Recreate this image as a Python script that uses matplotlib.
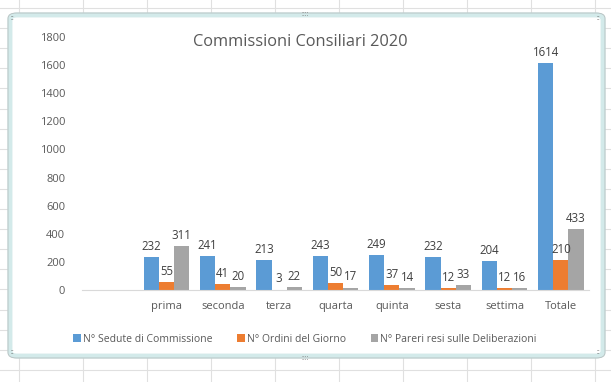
import numpy as np
import matplotlib.pyplot as plt
from matplotlib.patches import FancyBboxPatch
from matplotlib.lines import Line2D

# data (first slot is an empty category, as in the sheet)
categories = ["", "prima", "seconda", "terza", "quarta", "quinta", "sesta", "settima", "Totale"]
sedute = [np.nan, 232, 241, 213, 243, 249, 232, 204, 1614]
ordini = [np.nan, 55, 41, 3, 50, 37, 12, 12, 210]
pareri = [np.nan, 311, 20, 22, 17, 14, 33, 16, 433]
series_names = ["N° Sedute di Commissione", "N° Ordini del Giorno", "N° Pareri resi sulle Deliberazioni"]
colors = ["#5B9BD5", "#ED7D31", "#A5A5A5"]

W, H = 611, 382
plt.rcParams["font.family"] = ["Open Sans", "DejaVu Sans"]

fig = plt.figure(figsize=(W / 100, H / 100), dpi=100)


def fx(x):
    return x / W


def fy(y):
    return 1 - y / H


# spreadsheet cell grid behind the chart
for x in [19, 83, 147, 211, 275, 339, 403, 467, 531, 595]:
    fig.add_artist(Line2D([fx(x), fx(x)], [0, 1], color="#e0e0e0", lw=0.8, zorder=0))
for y in np.arange(8, H, 20.1):
    fig.add_artist(Line2D([0, 1], [fy(y), fy(y)], color="#e0e0e0", lw=0.8, zorder=0))

# chart area frame (selected chart look)
frame = FancyBboxPatch((fx(10), fy(356)), fx(593), 341 / H,
                       boxstyle="round,pad=0,rounding_size=0.012",
                       transform=fig.transFigure, facecolor="white",
                       edgecolor="#d3eaea", lw=3.5, zorder=1)
fig.add_artist(frame)
frame2 = FancyBboxPatch((fx(8), fy(358)), fx(597), 345 / H,
                        boxstyle="round,pad=0,rounding_size=0.014",
                        transform=fig.transFigure, facecolor="none",
                        edgecolor="#b8c4c4", lw=0.7, zorder=1)
fig.add_artist(frame2)
for (x, y) in [(12, 19), (598, 19), (12, 353), (598, 353)]:
    fig.text(fx(x), fy(y), "::", fontsize=5, color="#555555", ha="center", va="center", zorder=2)
fig.text(fx(305), fy(14), "::::", fontsize=5, color="#777777", ha="center", va="center", zorder=2)
fig.text(fx(305), fy(358), "::::", fontsize=5, color="#777777", ha="center", va="center", zorder=2)

ax = fig.add_axes([fx(82), fy(290), fx(507), (290 - 37) / H], zorder=3)
ax.patch.set_alpha(0)

x = np.arange(len(categories))
width = 0.27
series = [sedute, ordini, pareri]
for i, (vals, name, c) in enumerate(zip(series, series_names, colors)):
    bars = ax.bar(x + (i - 1) * width, vals, width, color=c, label=name)
    ax.bar_label(bars, labels=["" if np.isnan(v) else str(int(v)) for v in vals],
                 padding=3, fontsize=8.3, color="#404040")

ax.set_xlim(-0.5, len(categories) - 0.5)
ax.set_ylim(0, 1800)
ax.set_yticks(range(0, 1801, 200))
ax.set_xticks(x)
ax.set_xticklabels(categories)
ax.tick_params(axis="both", length=0, labelsize=8, labelcolor="#595959")
ax.tick_params(axis="x", pad=8)
ax.tick_params(axis="y", pad=12)
for s in ["top", "right", "left"]:
    ax.spines[s].set_visible(False)
ax.spines["bottom"].set_color("#d9d9d9")

fig.text(fx(300), fy(42), "Commissioni Consiliari 2020", fontsize=11.8,
         color="#595959", ha="center", va="center", zorder=3)

handles, labels = ax.get_legend_handles_labels()
fig.legend(handles, labels, loc="center", bbox_to_anchor=(fx(305), fy(339)), ncol=3,
           frameon=False, fontsize=7.5, labelcolor="#595959", handlelength=0.7,
           handleheight=0.7, handletextpad=0.2, columnspacing=2.4)

fig.savefig("out.png", dpi=100)
